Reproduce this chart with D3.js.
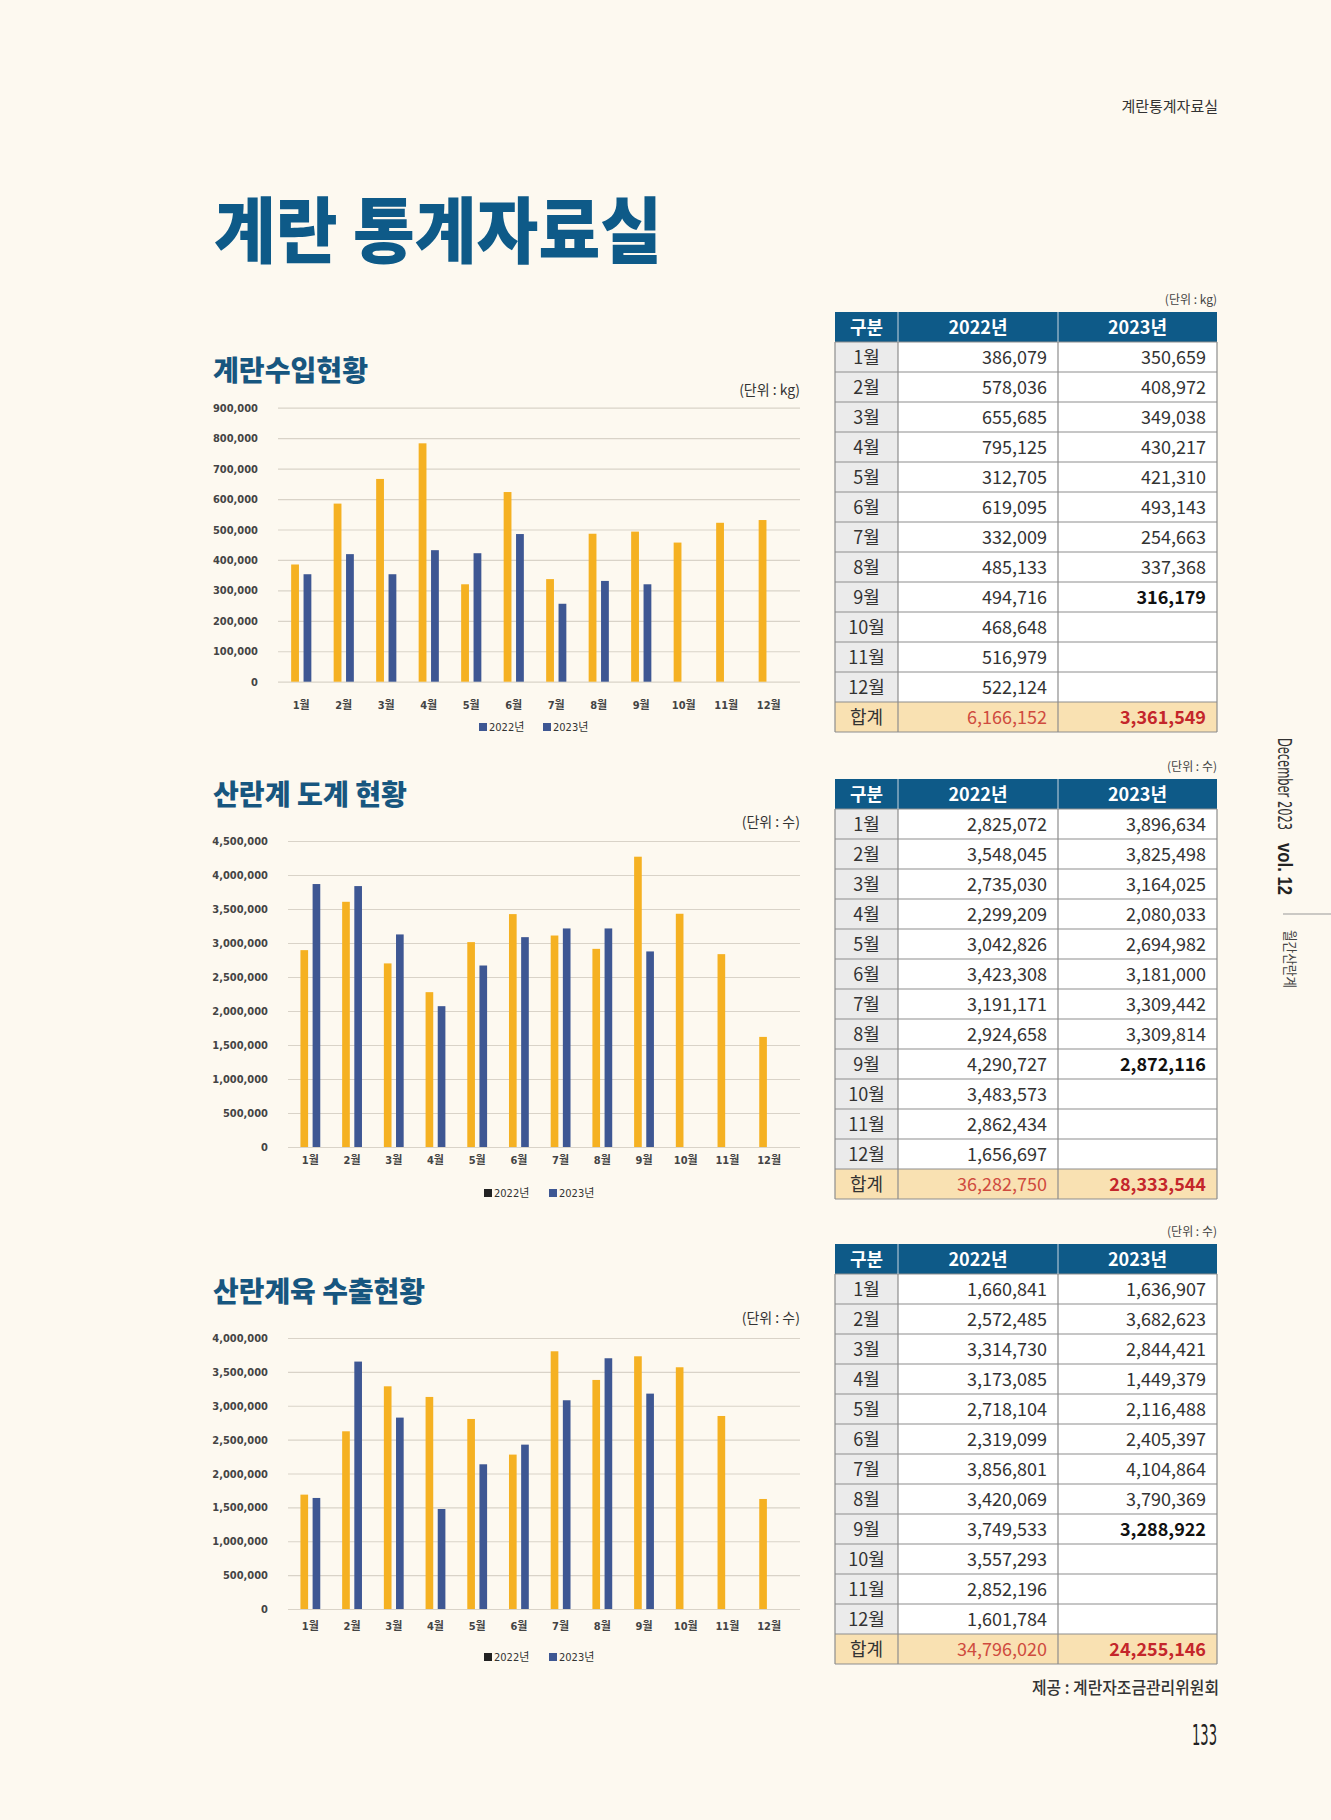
<!DOCTYPE html>
<html>
<head>
<meta charset="utf-8">
<script src="https://cdn.jsdelivr.net/npm/d3@7"></script>
<style>
  body { margin: 0; background: #fdf9f0; }
  svg { display: block; }
</style>
</head>
<body>
<svg id="page" width="1331" height="1820"></svg>
<script>
"use strict";

// Shared labels
const months = ["1월", "2월", "3월", "4월", "5월", "6월", "7월", "8월", "9월", "10월", "11월", "12월"];
const seriesNames = ["2022년", "2023년"];

// 계란수입현황 (kg) - bar heights
const importBar2022 = [385000, 585000, 666000, 783000, 320000, 623000, 337000, 486000, 493000, 457000, 522000, 531000];
const importBar2023 = [353000, 419000, 353000, 432000, 422000, 485000, 256000, 331000, 320000, null, null, null];
const importTicks = [0, 100000, 200000, 300000, 400000, 500000, 600000, 700000, 800000, 900000];
// table values
const importTable2022 = [386079, 578036, 655685, 795125, 312705, 619095, 332009, 485133, 494716, 468648, 516979, 522124];
const importTable2023 = [350659, 408972, 349038, 430217, 421310, 493143, 254663, 337368, 316179, null, null, null];
const importTotals = [6166152, 3361549];

// 산란계 도계 현황 (수)
const slaughterBar2022 = [2895000, 3606000, 2700000, 2277000, 3013000, 3425000, 3110000, 2914000, 4269000, 3430000, 2836000, 1619000];
const slaughterBar2023 = [3867000, 3837000, 3126000, 2071000, 2669000, 3086000, 3214000, 3214000, 2876000, null, null, null];
const slaughterTicks = [0, 500000, 1000000, 1500000, 2000000, 2500000, 3000000, 3500000, 4000000, 4500000];
const slaughterTable2022 = [2825072, 3548045, 2735030, 2299209, 3042826, 3423308, 3191171, 2924658, 4290727, 3483573, 2862434, 1656697];
const slaughterTable2023 = [3896634, 3825498, 3164025, 2080033, 2694982, 3181000, 3309442, 3309814, 2872116, null, null, null];
const slaughterTotals = [36282750, 28333544];

// 산란계육 수출현황 (수)
const exportBar2022 = [1688000, 2623000, 3287000, 3130000, 2805000, 2279000, 3804000, 3381000, 3730000, 3568000, 2849000, 1624000];
const exportBar2023 = [1639000, 3652000, 2825000, 1476000, 2136000, 2426000, 3081000, 3701000, 3179000, null, null, null];
const exportTicks = [0, 500000, 1000000, 1500000, 2000000, 2500000, 3000000, 3500000, 4000000];
const exportTable2022 = [1660841, 2572485, 3314730, 3173085, 2718104, 2319099, 3856801, 3420069, 3749533, 3557293, 2852196, 1601784];
const exportTable2023 = [1636907, 3682623, 2844421, 1449379, 2116488, 2405397, 4104864, 3790369, 3288922, null, null, null];
const exportTotals = [34796020, 24255146];

const YELLOW = "#f5b122";
const BLUE = "#3e5793";
const NAVY = "#0e5a88";
const KR = "'Noto Sans CJK KR', 'Noto Sans', sans-serif";
const COND = "'DejaVu Sans Condensed', 'Noto Sans CJK KR', sans-serif";
const fmt = d3.format(",");

const svg = d3.select("#page");
svg.append("rect").attr("width", 1331).attr("height", 1820).attr("fill", "#fdf9f0");

// page header / footer
svg.append("text")
	.attr("x", 1218).attr("y", 112)
	.attr("text-anchor", "end")
	.style("font-family", KR).style("font-size", "15px").style("fill", "#333")
	.text("계란통계자료실");

svg.append("text")
	.attr("x", 214).attr("y", 257)
	.attr("textLength", 448).attr("lengthAdjust", "spacingAndGlyphs")
	.style("font-family", KR).style("font-weight", 900).style("font-size", "72px").style("fill", NAVY)
	.text("계란 통계자료실");

svg.append("text")
	.attr("x", 1219).attr("y", 1694)
	.attr("text-anchor", "end")
	.attr("textLength", 187).attr("lengthAdjust", "spacingAndGlyphs")
	.style("font-family", KR).style("font-weight", 500).style("font-size", "17px").style("fill", "#333")
	.text("제공 : 계란자조금관리위원회");

svg.append("text")
	.attr("x", 1192).attr("y", 1745)
	.attr("textLength", 25).attr("lengthAdjust", "spacingAndGlyphs")
	.style("font-family", COND).style("font-size", "29px").style("fill", "#222")
	.text("133");

// side marker (rotated)
const side = svg.append("g");
side.append("text")
	.attr("transform", "translate(1278,738) rotate(90)")
	.attr("textLength", 92).attr("lengthAdjust", "spacingAndGlyphs")
	.style("font-family", COND).style("font-size", "19px").style("fill", "#333")
	.text("December 2023");
side.append("text")
	.attr("transform", "translate(1278,843) rotate(90)")
	.attr("textLength", 52).attr("lengthAdjust", "spacingAndGlyphs")
	.style("font-family", "'Liberation Sans', sans-serif").style("font-weight", 700).style("font-size", "20px").style("fill", "#222")
	.text("vol. 12");
side.append("line")
	.attr("x1", 1283).attr("x2", 1331).attr("y1", 914).attr("y2", 914)
	.style("stroke", "#999").style("stroke-width", 1);
side.append("text")
	.attr("transform", "translate(1285,930) rotate(90)")
	.attr("textLength", 58).attr("lengthAdjust", "spacingAndGlyphs")
	.style("font-family", KR).style("font-size", "14px").style("fill", "#444")
	.text("월간산란계");


// Chart drawing
function drawChart(cfg) {
	const g = svg.append("g");

	g.append("text")
		.attr("x", 213).attr("y", cfg.titleY)
		.attr("textLength", cfg.titleLen).attr("lengthAdjust", "spacingAndGlyphs")
		.style("font-family", KR).style("font-weight", 800).style("font-size", "28px").style("fill", "#17567f")
		.text(cfg.title);

	g.append("text")
		.attr("x", 800).attr("y", cfg.unitY)
		.attr("text-anchor", "end")
		.style("font-family", KR).style("font-size", "14px").style("fill", "#333")
		.text(cfg.unit);

	// categories sit a little inside the grid lines, as in the original
	const x0 = d3.scaleBand().domain(months).range([cfg.bandLeft, 790]);
	const x1 = d3.scaleBand().domain(seriesNames).range([0, x0.bandwidth()])
		.paddingInner(0.37).paddingOuter(0.9);
	const y = d3.scaleLinear().domain([0, d3.max(cfg.ticks)]).range([cfg.bottom, cfg.top]);

	const yAxis = g.append("g")
		.attr("transform", `translate(${cfg.left},0)`)
		.call(d3.axisLeft(y).tickValues(cfg.ticks).tickFormat(fmt)
			.tickSize(-(800 - cfg.left)).tickPadding(20));
	yAxis.select(".domain").remove();
	yAxis.selectAll(".tick line").style("stroke", "#d9d3c8").style("stroke-width", 1.2);
	yAxis.selectAll(".tick text")
		.style("font-family", COND).style("font-weight", 700).style("font-size", "11px").style("fill", "#444");

	const rows = months.map((m, i) => ({month: m, values: [cfg.a[i], cfg.b[i]]}));
	g.append("g").selectAll("g")
		.data(rows)
		.enter()
		.append("g")
		.attr("transform", d => `translate(${x0(d.month)},0)`)
		.selectAll("rect")
		.data(d => d.values.map((v, k) => ({key: seriesNames[k], v})).filter(e => e.v != null))
		.enter()
		.append("rect")
		.attr("x", d => x1(d.key))
		.attr("width", x1.bandwidth())
		.attr("y", d => y(d.v))
		.attr("height", d => y(0) - y(d.v))
		.style("fill", d => d.key === seriesNames[0] ? YELLOW : BLUE);

	g.append("g").selectAll("text")
		.data(months)
		.enter()
		.append("text")
		.attr("x", d => x0(d) + x0.bandwidth() / 2)
		.attr("y", cfg.labelY)
		.attr("text-anchor", "middle")
		.style("font-family", COND).style("font-weight", 700).style("font-size", "11px").style("fill", "#444")
		.text(d => d);

	const leg = g.append("g").selectAll("g")
		.data(seriesNames)
		.enter()
		.append("g")
		.attr("transform", (d, i) => `translate(${cfg.legendX[i]},${cfg.legendY})`);
	leg.append("rect")
		.attr("x", 0).attr("y", -4).attr("width", 8).attr("height", 8)
		.style("fill", (d, i) => cfg.legendColors[i]);
	leg.append("text")
		.attr("x", 10).attr("y", 4)
		.style("font-family", COND).style("font-size", "11px").style("fill", "#333")
		.text(d => d);
}

drawChart({
	title: "계란수입현황", titleY: 381, titleLen: 155, unit: "(단위 : kg)", unitY: 395,
	left: 278, bandLeft: 280, top: 407.7, bottom: 681.7, labelY: 709,
	ticks: importTicks, a: importBar2022, b: importBar2023,
	legendX: [479, 543], legendY: 727, legendColors: [BLUE, BLUE]
});
drawChart({
	title: "산란계 도계 현황", titleY: 805, titleLen: 194, unit: "(단위 : 수)", unitY: 827,
	left: 288, bandLeft: 289.5, top: 841, bottom: 1147, labelY: 1164,
	ticks: slaughterTicks, a: slaughterBar2022, b: slaughterBar2023,
	legendX: [484, 549], legendY: 1193, legendColors: ["#222", BLUE]
});
drawChart({
	title: "산란계육 수출현황", titleY: 1302, titleLen: 212, unit: "(단위 : 수)", unitY: 1323,
	left: 288, bandLeft: 289.5, top: 1338, bottom: 1609, labelY: 1630,
	ticks: exportTicks, a: exportBar2022, b: exportBar2023,
	legendX: [484, 549], legendY: 1657, legendColors: ["#222", BLUE]
});


// Table drawing
const colX = [835, 898, 1058, 1217];
const rowH = 30;

function drawTable(top, unit, v2022, v2023, totals) {
	const g = svg.append("g");

	g.append("text")
		.attr("x", 1217).attr("y", top - 8)
		.attr("text-anchor", "end")
		.style("font-family", KR).style("font-size", "12px").style("fill", "#444")
		.text(unit);

	// header
	const header = ["구분", seriesNames[0], seriesNames[1]];
	g.append("rect")
		.attr("x", colX[0]).attr("y", top).attr("width", colX[3] - colX[0]).attr("height", rowH)
		.style("fill", NAVY);
	g.selectAll(".hd")
		.data(header)
		.enter()
		.append("text")
		.attr("x", (d, i) => (colX[i] + colX[i + 1]) / 2)
		.attr("y", top + 21.5)
		.attr("text-anchor", "middle")
		.style("font-family", KR).style("font-weight", 700).style("font-size", "18px").style("fill", "#fff")
		.text(d => d);

	const rows = months.map((m, i) => ({label: m, a: v2022[i], b: v2023[i], bold: i === 8, total: false}));
	rows.push({label: "합계", a: totals[0], b: totals[1], total: true});

	const r = g.selectAll(".row")
		.data(rows)
		.enter()
		.append("g")
		.attr("transform", (d, i) => `translate(0,${top + rowH * (i + 1)})`);

	r.append("rect")
		.attr("x", colX[0]).attr("width", colX[3] - colX[0]).attr("height", rowH)
		.style("fill", d => d.total ? "#f9e1b2" : "#fff");
	r.filter(d => !d.total).append("rect")
		.attr("x", colX[0]).attr("width", colX[1] - colX[0]).attr("height", rowH)
		.style("fill", "#ebebeb");

	r.append("text")
		.attr("x", (colX[0] + colX[1]) / 2).attr("y", 21.5)
		.attr("text-anchor", "middle")
		.style("font-family", KR).style("font-size", "18px").style("fill", "#333")
		.text(d => d.label);
	r.append("text")
		.attr("x", colX[2] - 11).attr("y", 21.5)
		.attr("text-anchor", "end")
		.style("font-family", KR).style("font-size", "18px")
		.style("fill", d => d.total ? "#cf4b3e" : "#333")
		.text(d => d.a == null ? "" : fmt(d.a));
	r.append("text")
		.attr("x", colX[3] - 11).attr("y", 21.5)
		.attr("text-anchor", "end")
		.style("font-family", KR).style("font-size", "18px")
		.style("font-weight", d => (d.bold || d.total) ? 700 : 400)
		.style("fill", d => d.total ? "#c4262b" : (d.bold ? "#111" : "#333"))
		.text(d => d.b == null ? "" : fmt(d.b));

	// grid lines
	const bottom = top + rowH * (rows.length + 1);
	g.selectAll(".hl")
		.data(d3.range(1, rows.length + 2))
		.enter()
		.append("line")
		.attr("x1", colX[0]).attr("x2", colX[3])
		.attr("y1", i => top + rowH * i).attr("y2", i => top + rowH * i)
		.style("stroke", "#8d8d8d").style("stroke-width", 1.2);
	g.selectAll(".vl")
		.data(colX)
		.enter()
		.append("line")
		.attr("x1", d => d).attr("x2", d => d)
		.attr("y1", top + rowH).attr("y2", bottom)
		.style("stroke", "#8d8d8d").style("stroke-width", 1.2);
	g.selectAll(".hv")
		.data(colX.slice(1, 3))
		.enter()
		.append("line")
		.attr("x1", d => d).attr("x2", d => d)
		.attr("y1", top).attr("y2", top + rowH)
		.style("stroke", "#c9d6e0").style("stroke-width", 1);
}

drawTable(312, "(단위 : kg)", importTable2022, importTable2023, importTotals);
drawTable(779, "(단위 : 수)", slaughterTable2022, slaughterTable2023, slaughterTotals);
drawTable(1244, "(단위 : 수)", exportTable2022, exportTable2023, exportTotals);
</script>
</body>
</html>
